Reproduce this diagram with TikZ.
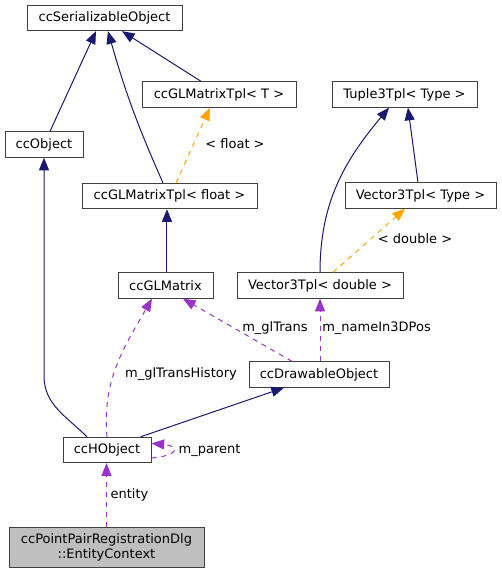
\documentclass[tikz,border=0pt]{standalone}
\usepackage{fontspec}
\setmainfont{DejaVu Sans}
\usepackage{tikz}
\usetikzlibrary{arrows.meta}
\definecolor{color1}{RGB}{25, 25, 112}
\definecolor{color2}{RGB}{255, 165, 0}
\definecolor{color3}{RGB}{154, 50, 205}
\definecolor{color4}{RGB}{191, 191, 191}

\begin{document}
\begin{tikzpicture}[x=0.75pt, y=-0.75pt,
	font=\fontsize{9.75pt}{11.25pt}\selectfont,
	cls/.style={draw=black!75, line width=0.75pt, fill=white, minimum height=19pt, inner sep=0pt},
	inh/.style={color1, line width=0.75pt, -{Triangle[length=9.5pt, width=7.5pt]}},
	tpl/.style={color2, line width=0.75pt, dash pattern=on 3.75pt off 3.75pt, -{Triangle[length=9.5pt, width=7.5pt]}},
	use/.style={color3, line width=0.75pt, dash pattern=on 3.75pt off 3.75pt, -{Triangle[length=9.5pt, width=7.5pt]}}]
	\useasboundingbox (0,0) rectangle (501,573);
	% classes
	\node[cls, minimum width=116.25pt] (ser) at (104.5,18) {ccSerializableObject};
	\node[cls, minimum width=115.5pt] (tplT) at (219,94.5) {ccGLMatrixTpl< T >};
	\node[cls, minimum width=108.75pt] (tuple) at (404.5,94.5) {Tuple3Tpl< Type >};
	\node[cls, minimum width=58.5pt] (obj) at (44,144.5) {ccObject};
	\node[cls, minimum width=131.25pt] (tplf) at (169.5,196) {ccGLMatrixTpl< float >};
	\node[cls, minimum width=113.25pt] (vecT) at (420.5,195.5) {Vector3Tpl< Type >};
	\node[cls, minimum width=71.25pt] (glm) at (165.5,285.5) {ccGLMatrix};
	\node[cls, minimum width=124.5pt] (vecd) at (320,285.5) {Vector3Tpl< double >};
	\node[cls, minimum width=105pt] (drawobj) at (319,374.5) {ccDrawableObject};
	\node[cls, minimum width=66pt] (hobj) at (107,450) {ccHObject};
	\node[cls, minimum width=146.25pt, minimum height=30pt, fill=color4, align=center] (entity) at (106.5,547) {ccPointPairRegistrationDlg\\::EntityContext};
	% inheritance
	\draw[inh] ([xshift=4.5pt]obj.north) -- ([xshift=-6.4pt]ser.south);
	\draw[inh] ([xshift=-4.9pt]tplf.north) to[bend left=4] ([xshift=2.6pt]ser.south);
	\draw[inh] ([xshift=-13.5pt]tplT.north) -- ([xshift=13.1pt]ser.south);
	\draw[tpl] ([xshift=4.9pt]tplf.north) -- ([xshift=-6.75pt]tplT.south);
	\draw[inh] ([xshift=1.1pt]glm.north) -- ([xshift=1.1pt]glm.north |- tplf.south);
	\draw[inh] (vecd.north) to[out=90, in=-130] ([xshift=-11.6pt]tuple.south);
	\draw[inh] ([xshift=-1.9pt]vecT.north) -- ([xshift=2.6pt]tuple.south);
	\draw[tpl] ([xshift=9.75pt]vecd.north) -- ([xshift=-11.6pt]vecT.south);
	\draw[inh] ([xshift=-15pt]hobj.north) to[out=135, in=-90] ([yshift=-163.5pt]obj.south) -- (obj.south);
	\draw[inh] ([xshift=-8.25pt]hobj.north east) -- ([xshift=-26.25pt]drawobj.south);
	% members
	\draw[use] (hobj.north) to[out=95, in=-120] ([xshift=-10.1pt]glm.south);
	\draw[use] ([xshift=-20.25pt]drawobj.north) -- ([xshift=13.1pt]glm.south);
	\draw[use] ([xshift=0.75pt]drawobj.north) -- ([xshift=0.75pt]drawobj.north |- vecd.south);
	\draw[use] ([yshift=-6pt]hobj.east) to[out=5, in=-5, looseness=5] ([yshift=5pt]hobj.east);
	\draw[use] (entity.north) -- (entity.north |- hobj.south);
	% labels
	\node (lfloat) at (235,144) {< float >};
	\node (ldouble) at (415,239) {< double >};
	\node (lhist) at (181,374) {m\_glTransHistory};
	\node (ltrans) at (275,328) {m\_glTrans};
	\node[anchor=west, inner sep=0pt] (lname) at (322,328) {m\_nameIn3DPos};
	\node (lparent) at (209.5,450) {m\_parent};
	\node (lentity) at (129.5,495) {entity};
\end{tikzpicture}
\end{document}
